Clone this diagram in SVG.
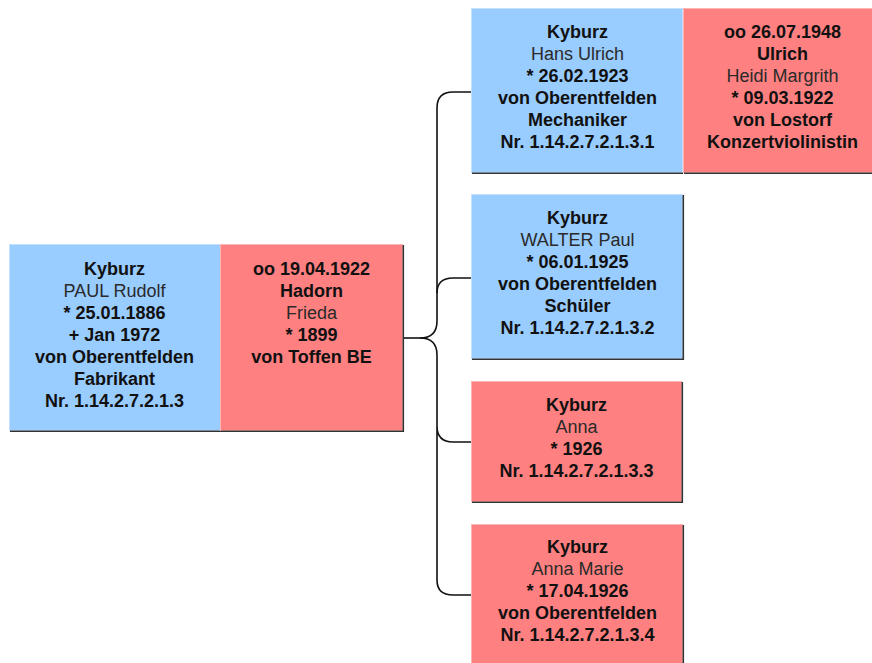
<svg xmlns="http://www.w3.org/2000/svg" width="872" height="663" viewBox="0 0 872 663">
  <style>
    .bg { fill: #ffffff; }
    .m { fill: #99ccff; stroke: #c4e0ff; stroke-width: 1; }
    .f { fill: #ff8080; stroke: #ffb4b4; stroke-width: 1; }
    .sh { stroke: #333333; stroke-width: 1.6; fill: none; }
    text { font-family: "Liberation Sans", Arial, sans-serif; font-size: 18px; text-anchor: middle; }
    .b { font-weight: bold; fill: #111111; }
    .n { font-weight: normal; fill: #2a2a2a; }
    .link { fill: none; stroke: #111111; stroke-width: 1.6; }
  </style>

  <rect class="bg" x="0" y="0" width="872" height="663"/>

  <!-- connectors: brace from the couple to each child -->
  <g id="connectors">
    <path class="link" d="M403,338 H420"/>
    <path class="link" d="M420,338 Q437,338 437,321 V108 Q437,92 453,92 H471"/>
    <path class="link" d="M437,293 Q437,278 453,278 H471"/>
    <path class="link" d="M420,338 Q437,338 437,355 V426 Q437,442 453,442 H471 M437,426 V580 Q437,595 453,595 H471"/>
  </g>

  <!-- parents -->
  <g id="paul">
    <rect class="m" x="9.5" y="244.5" width="211" height="186"/>
    <path class="sh" d="M10,431.3 H221"/>
    <text class="b" x="114.5" y="274.5">Kyburz</text>
    <text class="n" x="114.5" y="296.5">PAUL Rudolf</text>
    <text class="b" x="114.5" y="318.5">* 25.01.1886</text>
    <text class="b" x="114.5" y="340.5">+ Jan 1972</text>
    <text class="b" x="114.5" y="362.5">von Oberentfelden</text>
    <text class="b" x="114.5" y="384.5">Fabrikant</text>
    <text class="b" x="114.5" y="406.5">Nr. 1.14.2.7.2.1.3</text>
  </g>

  <g id="frieda">
    <rect class="f" x="220.5" y="244.5" width="182" height="186"/>
    <path class="sh" d="M221,431.3 H403.3 V245"/>
    <text class="b" x="311.5" y="274.5">oo 19.04.1922</text>
    <text class="b" x="311.5" y="296.5">Hadorn</text>
    <text class="n" x="311.5" y="318.5">Frieda</text>
    <text class="b" x="311.5" y="340.5">* 1899</text>
    <text class="b" x="311.5" y="362.5">von Toffen BE</text>
  </g>

  <!-- children -->
  <g id="hans">
    <rect class="m" x="471.5" y="8.5" width="211" height="164"/>
    <path class="sh" d="M472,173.3 H683"/>
    <text class="b" x="577.5" y="38">Kyburz</text>
    <text class="n" x="577.5" y="60">Hans Ulrich</text>
    <text class="b" x="577.5" y="82">* 26.02.1923</text>
    <text class="b" x="577.5" y="104">von Oberentfelden</text>
    <text class="b" x="577.5" y="126">Mechaniker</text>
    <text class="b" x="577.5" y="148">Nr. 1.14.2.7.2.1.3.1</text>
  </g>

  <g id="heidi">
    <rect class="f" x="683.5" y="8.5" width="200" height="164"/>
    <path class="sh" d="M684,173.3 H884"/>
    <text class="b" x="782.5" y="38">oo 26.07.1948</text>
    <text class="b" x="782.5" y="60">Ulrich</text>
    <text class="n" x="782.5" y="82">Heidi Margrith</text>
    <text class="b" x="782.5" y="104">* 09.03.1922</text>
    <text class="b" x="782.5" y="126">von Lostorf</text>
    <text class="b" x="782.5" y="148">Konzertviolinistin</text>
  </g>

  <g id="walter">
    <rect class="m" x="471.5" y="194.5" width="211" height="164"/>
    <path class="sh" d="M472,359.3 H683.3 V195"/>
    <text class="b" x="577.5" y="223.5">Kyburz</text>
    <text class="n" x="577.5" y="245.5">WALTER Paul</text>
    <text class="b" x="577.5" y="267.5">* 06.01.1925</text>
    <text class="b" x="577.5" y="289.5">von Oberentfelden</text>
    <text class="b" x="577.5" y="311.5">Schüler</text>
    <text class="b" x="577.5" y="333.5">Nr. 1.14.2.7.2.1.3.2</text>
  </g>

  <g id="anna">
    <rect class="f" x="471.5" y="381.5" width="210" height="120"/>
    <path class="sh" d="M472,502.3 H682.3 V382"/>
    <text class="b" x="576.5" y="411">Kyburz</text>
    <text class="n" x="576.5" y="433">Anna</text>
    <text class="b" x="576.5" y="455">* 1926</text>
    <text class="b" x="576.5" y="477">Nr. 1.14.2.7.2.1.3.3</text>
  </g>

  <g id="anna-marie">
    <rect class="f" x="471.5" y="524.5" width="211" height="150"/>
    <path class="sh" d="M683.3,525 V675"/>
    <text class="b" x="577.5" y="553">Kyburz</text>
    <text class="n" x="577.5" y="575">Anna Marie</text>
    <text class="b" x="577.5" y="597">* 17.04.1926</text>
    <text class="b" x="577.5" y="619">von Oberentfelden</text>
    <text class="b" x="577.5" y="641">Nr. 1.14.2.7.2.1.3.4</text>
  </g>
</svg>
